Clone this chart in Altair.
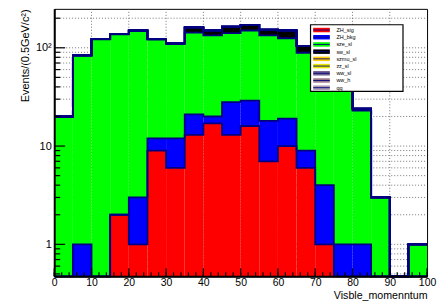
import altair as alt
import pandas as pd

FONT = "Liberation Sans"
NAVY = "#000080"

# ---- data -------------------------------------------------------------
edges = [0, 5, 10, 15, 20, 25, 30, 35, 40, 45, 50, 55, 60, 65, 70, 75, 80, 85, 90, 95, 100]
names = ["ZH_sig", "ZH_bkg", "sze_sl", "sw_sl", "szmu_sl", "zz_sl", "ww_sl", "ww_h", "qq"]
colors = ["#ff0000", "#0000ff", "#00ff00", "#000000", "#ffcc00", "#e6e600", "#6f5f8f", "#9c7a8a", "#a898b0"]

zh_sig  = [0, 0, 0, 2, 1, 9, 6, 13, 17, 13, 16, 7, 10, 6, 1, 0, 0, 0, 0, 0]
zh_bkg  = [0, 1, 0, 0, 2, 3, 6, 8, 3, 15, 13, 11, 9, 3, 3, 1, 1, 0, 0, 0]
sze_sl  = [20, 83, 122, 135, 146, 109, 97, 122, 114, 113, 121, 116, 106, 80, 61, 44, 22, 3, 0, 1]
sw_sl   = [0, 0, 1, 1, 1, 2, 3, 18, 16, 23, 21, 19, 25, 15, 5, 3, 1, 0, 0, 0]
szmu_sl = [0, 0, 0, 0, 0, 0, 0, 0, 0, 0, 0, 0, 0, 0, 0, 0, 0, 0, 0, 0]
zz_sl   = [0, 0, 0, 0, 0, 0, 0, 0, 0, 0, 0, 0, 0, 0, 0, 0, 0, 0, 0, 0]
ww_sl   = [0, 0, 0, 0, 0, 0, 0, 0, 0, 0, 0, 0, 0, 0, 0, 0, 0, 0, 0, 0]
ww_h    = [0, 0, 0, 0, 0, 0, 0, 0, 0, 0, 0, 0, 1, 0, 0, 0, 0, 0, 0, 0]
qq      = [0, 0, 0, 0, 0, 0, 0, 0, 0, 0, 0, 0, 0, 0, 0, 0, 0, 0, 0, 0]
series = [zh_sig, zh_bkg, sze_sl, sw_sl, szmu_sl, zz_sl, ww_sl, ww_h, qq]

x_major = [0, 10, 20, 30, 40, 50, 60, 70, 80, 90, 100]
x_minor = list(range(0, 101, 2))
x_grid = [10, 20, 30, 40, 50, 60, 70, 80, 90]
y_major = [1, 10, 100]
y_minor = [0.5, 0.6, 0.7, 0.8, 0.9, 2, 3, 4, 5, 6, 7, 8, 9,
           20, 30, 40, 50, 60, 70, 80, 90, 200]

W, H = 375, 269
FLOOR = 0.01  # stands for "zero" on the log axis (clamped to the bottom)

# ---- build stacked tables ---------------------------------------------
bar_rows, line_rows = [], []
cum = [0.0] * 20
for name, vals in zip(names, series):
    new = [c + v for c, v in zip(cum, vals)]
    for i in range(20):
        if vals[i] > 0:
            bar_rows.append({"name": name, "x": edges[i], "x2": edges[i + 1],
                             "y": new[i], "y2": max(cum[i], FLOOR)})
    for i in range(20):
        line_rows.append({"name": name, "x": edges[i], "y": max(new[i], FLOOR)})
    line_rows.append({"name": name, "x": edges[20], "y": max(new[19], FLOOR)})
    cum = new
bars_df = pd.DataFrame(bar_rows)
lines_df = pd.DataFrame(line_rows)

XS = alt.Scale(domain=[0, 100], nice=False, zero=False)
YS = alt.Scale(type="log", domain=[0.473, 249], nice=False, clamp=True)
X_AX = alt.Axis(values=x_major, title="Visble_momenntum", ticks=False, grid=False,
                domainWidth=2, domainColor="black", labelFont=FONT, labelFontSize=10.5,
                labelColor="black", labelPadding=1.5, labelFlush=False,
                titleFont=FONT, titleFontSize=10.7, titleFontWeight="normal", titleColor="black",
                titleX=W, titleY=22, titleAlign="right", titleBaseline="alphabetic", zindex=1)
Y_AX = alt.Axis(values=y_major, title="Events/(0.5GeV/c²)", ticks=False, grid=False,
                labelExpr="datum.value >= 100 ? '10²' : (datum.value >= 10 ? '10' : '1')",
                domainWidth=2, domainColor="black", labelFont=FONT, labelFontSize=11,
                labelColor="black", labelPadding=3,
                titleFont=FONT, titleFontSize=11, titleFontWeight="normal", titleColor="black",
                titleAngle=270, titleX=-26, titleY=0, titleAlign="right",
                titleBaseline="alphabetic", zindex=1)
COLOR = alt.Color("name:N", scale=alt.Scale(domain=names, range=colors), legend=None)

# grid (dotted, behind everything)
hgrid = alt.Chart(pd.DataFrame({"y": y_major + y_minor})).mark_rule(
    color="#555555", strokeWidth=0.8, strokeDash=[1, 2]).encode(
    x=alt.value(0), x2=alt.value(W), y=alt.Y("y:Q", scale=YS, axis=Y_AX))
vgrid = alt.Chart(pd.DataFrame({"x": x_grid})).mark_rule(
    color="#555555", strokeWidth=0.8, strokeDash=[1, 2]).encode(
    x=alt.X("x:Q", scale=XS, axis=X_AX), y=alt.value(0), y2=alt.value(H))

bars = alt.Chart(bars_df).mark_bar(stroke=None).encode(
    x=alt.X("x:Q", scale=XS, axis=X_AX), x2="x2:Q",
    y=alt.Y("y:Q", scale=YS, axis=Y_AX), y2="y2:Q",
    color=COLOR)

lines = alt.Chart(lines_df).mark_line(interpolate="step-after", color=NAVY,
                                      strokeWidth=1.8).encode(
    x=alt.X("x:Q", scale=XS, axis=X_AX), y=alt.Y("y:Q", scale=YS, axis=Y_AX),
    detail="name:N")

# inward ticks
ytmaj = alt.Chart(pd.DataFrame({"y": y_major})).mark_rule(color="black", strokeWidth=1.2).encode(
    x=alt.value(0), x2=alt.value(11), y=alt.Y("y:Q", scale=YS, axis=Y_AX))
ytmin = alt.Chart(pd.DataFrame({"y": y_minor})).mark_rule(color="black", strokeWidth=1.2).encode(
    x=alt.value(0), x2=alt.value(6), y=alt.Y("y:Q", scale=YS, axis=Y_AX))
xtmaj = alt.Chart(pd.DataFrame({"x": x_major})).mark_rule(color="black", strokeWidth=1.2).encode(
    x=alt.X("x:Q", scale=XS, axis=X_AX), y=alt.value(H), y2=alt.value(H - 8))
xtmin = alt.Chart(pd.DataFrame({"x": x_minor})).mark_rule(color="black", strokeWidth=1.2).encode(
    x=alt.X("x:Q", scale=XS, axis=X_AX), y=alt.value(H), y2=alt.value(H - 4))

main = alt.layer(hgrid, vgrid, bars, lines, ytmaj, ytmin, xtmaj, xtmin)

# legend box (drawn on top)
leg_df = pd.DataFrame({"name": names, "ly": [21.3 + 7.25 * i for i in range(len(names))]})
LY = alt.Scale(domain=[H, 0], nice=False, zero=False)
box = alt.Chart(pd.DataFrame({"a": [0]})).mark_rect(fill="white", stroke="black",
                                                    strokeWidth=1.2).encode(
    x=alt.value(257.8), x2=alt.value(350.8), y=alt.value(16), y2=alt.value(83))
sym = alt.Chart(leg_df).mark_rule(strokeWidth=4.5).encode(
    x=alt.value(260.5), x2=alt.value(277.2),
    y=alt.Y("ly:Q", scale=LY, axis=None), color=COLOR)
symline = alt.Chart(leg_df).mark_rule(strokeWidth=0.9, color=NAVY).encode(
    x=alt.value(260.5), x2=alt.value(277.2), y=alt.Y("ly:Q", scale=LY, axis=None))
txt = alt.Chart(leg_df).mark_text(align="left", baseline="middle", font=FONT,
                                  fontSize=5.5, color="black").encode(
    x=alt.value(283.8), y=alt.Y("ly:Q", scale=LY, axis=None), text="name:N")
legend = alt.layer(box, sym, symline, txt)

chart = alt.layer(main, legend).resolve_scale(y="independent").properties(
    width=W, height=H,
    autosize=alt.AutoSizeParams(type="none"),
    padding={"left": 46.5, "top": 0, "right": 10, "bottom": 25},
    background="white",
).configure_view(stroke="black", strokeWidth=1)

chart.save("out.html", embed_options={"renderer": "svg", "actions": False})
